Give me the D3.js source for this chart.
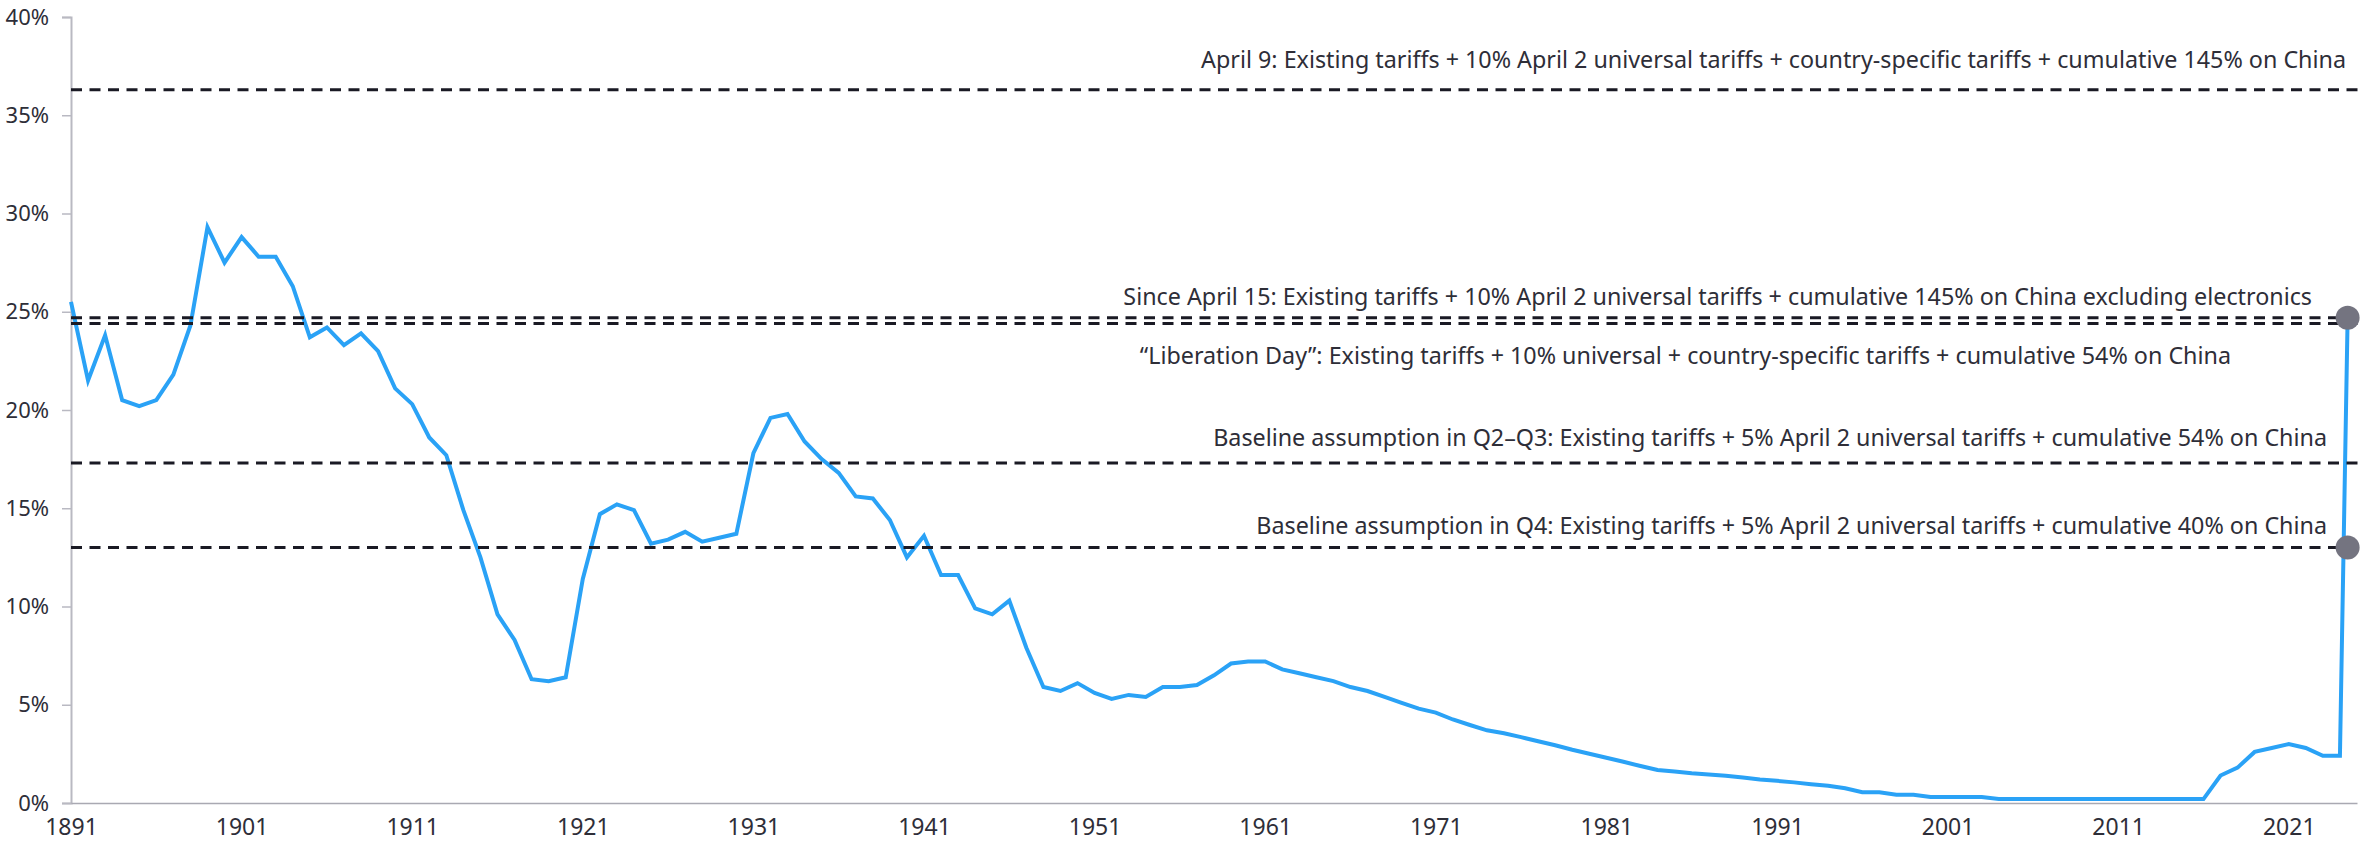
<!DOCTYPE html>
<html>
<head>
<meta charset="utf-8">
<script src="https://cdn.jsdelivr.net/npm/d3@7"></script>
<style>
    body { margin: 0; background: #ffffff; }
    svg text { font-family: "Noto Sans", sans-serif; fill: #2e2e38; }
</style>
</head>
<body>
<svg id="chart" width="2362" height="846"></svg>
<script>
// effective US tariff rate, % (last point = April 2025)
const years = [
    1891, 1892, 1893, 1894, 1895, 1896, 1897, 1898, 1899, 1900,
    1901, 1902, 1903, 1904, 1905, 1906, 1907, 1908, 1909, 1910,
    1911, 1912, 1913, 1914, 1915, 1916, 1917, 1918, 1919, 1920,
    1921, 1922, 1923, 1924, 1925, 1926, 1927, 1928, 1929, 1930,
    1931, 1932, 1933, 1934, 1935, 1936, 1937, 1938, 1939, 1940,
    1941, 1942, 1943, 1944, 1945, 1946, 1947, 1948, 1949, 1950,
    1951, 1952, 1953, 1954, 1955, 1956, 1957, 1958, 1959, 1960,
    1961, 1962, 1963, 1964, 1965, 1966, 1967, 1968, 1969, 1970,
    1971, 1972, 1973, 1974, 1975, 1976, 1977, 1978, 1979, 1980,
    1981, 1982, 1983, 1984, 1985, 1986, 1987, 1988, 1989, 1990,
    1991, 1992, 1993, 1994, 1995, 1996, 1997, 1998, 1999, 2000,
    2001, 2002, 2003, 2004, 2005, 2006, 2007, 2008, 2009, 2010,
    2011, 2012, 2013, 2014, 2015, 2016, 2017, 2018, 2019, 2020,
    2021, 2022, 2023, 2024, 2024.45
];
const tariffRates = [
    25.5, 21.5, 23.8, 20.5, 20.2, 20.5, 21.8, 24.3, 29.3, 27.5,
    28.8, 27.8, 27.8, 26.3, 23.7, 24.2, 23.3, 23.9, 23.0, 21.1,
    20.3, 18.6, 17.7, 14.9, 12.5, 9.6, 8.3, 6.3, 6.2, 6.4,
    11.4, 14.7, 15.2, 14.9, 13.2, 13.4, 13.8, 13.3, 13.5, 13.7,
    17.8, 19.6, 19.8, 18.4, 17.5, 16.8, 15.6, 15.5, 14.4, 12.5,
    13.6, 11.6, 11.6, 9.9, 9.6, 10.3, 7.9, 5.9, 5.7, 6.1,
    5.6, 5.3, 5.5, 5.4, 5.9, 5.9, 6.0, 6.5, 7.1, 7.2,
    7.2, 6.8, 6.6, 6.4, 6.2, 5.9, 5.7, 5.4, 5.1, 4.8,
    4.6, 4.25, 3.97, 3.7, 3.55, 3.35, 3.14, 2.94, 2.71, 2.51,
    2.3, 2.1, 1.88, 1.68, 1.6, 1.51, 1.45, 1.39, 1.3, 1.2,
    1.13, 1.05, 0.96, 0.88, 0.75, 0.55, 0.55, 0.42, 0.42, 0.3,
    0.3, 0.3, 0.3, 0.2, 0.2, 0.2, 0.2, 0.2, 0.2, 0.2,
    0.2, 0.2, 0.2, 0.2, 0.2, 0.2, 1.4, 1.8, 2.6, 2.8,
    3.0, 2.8, 2.4, 2.4, 24.7
];

// scenario lines
const scenarioRates = [36.3, 24.7, 24.4, 17.3, 13.0];
const scenarioLabels = [
    "April 9: Existing tariffs + 10% April 2 universal tariffs + country-specific tariffs + cumulative 145% on China",
    "Since April 15: Existing tariffs + 10% April 2 universal tariffs + cumulative 145% on China excluding electronics",
    "\u201cLiberation Day\u201d: Existing tariffs + 10% universal + country-specific tariffs + cumulative 54% on China",
    "Baseline assumption in Q2\u2013Q3: Existing tariffs + 5% April 2 universal tariffs + cumulative 54% on China",
    "Baseline assumption in Q4: Existing tariffs + 5% April 2 universal tariffs + cumulative 40% on China"
];
const markerRates = [24.7, 13.0];
const markerYear = 2024.45;

const yTicks = [0, 5, 10, 15, 20, 25, 30, 35, 40];
const xTicks = [1891, 1901, 1911, 1921, 1931, 1941, 1951, 1961, 1971, 1981, 1991, 2001, 2011, 2021];

// label placement (right edge in px, vertical offset from line)
const labelLayout = [
    { right: 2346, dy: -30 },
    { right: 2312, dy: -21 },
    { right: 2231, dy: 32 },
    { right: 2327, dy: -25 },
    { right: 2327, dy: -22 }
];

const width = 2362;
const height = 846;
const margin = { top: 17, right: 5, bottom: 43, left: 71 };

const svg = d3.select("#chart");

const x = d3.scaleLinear()
    .domain([1891, 2025])
    .range([margin.left, width - margin.right]);

const y = d3.scaleLinear()
    .domain([0, 40])
    .range([height - margin.bottom, margin.top]);

// y axis
const yAxis = svg.append("g")
    .attr("transform", `translate(${margin.left},0)`)
    .call(d3.axisLeft(y).tickValues(yTicks).tickFormat(d => d + "%").tickSize(9).tickPadding(13));
yAxis.select(".domain").attr("stroke", "#b9b9c2").attr("stroke-width", 2);
yAxis.selectAll(".tick line").attr("stroke", "#b9b9c2").attr("stroke-width", 1.5);
yAxis.selectAll(".tick text")
    .attr("font-size", 22)
    .style("font-family", '"Noto Sans", sans-serif')
    .attr("fill", "#2e2e38");

// x axis
const xAxis = svg.append("g")
    .attr("transform", `translate(0,${y(0)})`)
    .call(d3.axisBottom(x).tickValues(xTicks).tickFormat(d3.format("d")).tickSize(0).tickPadding(16));
xAxis.select(".domain").attr("stroke", "#a9a9b2").attr("stroke-width", 1.5);
xAxis.selectAll(".tick text")
    .attr("font-size", 23)
    .style("font-family", '"Noto Sans", sans-serif')
    .attr("fill", "#2e2e38");

// tariff line
const series = years.map((yr, i) => ({ year: yr, value: tariffRates[i] }));
const line = d3.line()
    .x(d => x(d.year))
    .y(d => y(d.value));

svg.append("path")
    .datum(series)
    .attr("fill", "none")
    .attr("stroke", "#2aa2f6")
    .attr("stroke-width", 4)
    .attr("d", line);

// scenario dashed lines + labels
const scenarios = scenarioRates.map((v, i) => ({ value: v, label: scenarioLabels[i], layout: labelLayout[i] }));

svg.append("g")
    .selectAll("line")
    .data(scenarios)
    .enter()
    .append("line")
    .attr("x1", margin.left)
    .attr("x2", width)
    .attr("y1", d => y(d.value))
    .attr("y2", d => y(d.value))
    .attr("stroke", "#1a1a24")
    .attr("stroke-width", 3)
    .attr("stroke-dasharray", "11 7.5");

svg.append("g")
    .selectAll("text")
    .data(scenarios)
    .enter()
    .append("text")
    .attr("x", d => d.layout.right)
    .attr("y", d => y(d.value) + d.layout.dy)
    .attr("dy", "0.35em")
    .attr("text-anchor", "end")
    .attr("font-size", 23.3)
    .text(d => d.label);

// markers at the end
svg.append("g")
    .selectAll("circle")
    .data(markerRates)
    .enter()
    .append("circle")
    .attr("cx", x(markerYear))
    .attr("cy", d => y(d))
    .attr("r", 12)
    .attr("fill", "#747480");
</script>
</body>
</html>
